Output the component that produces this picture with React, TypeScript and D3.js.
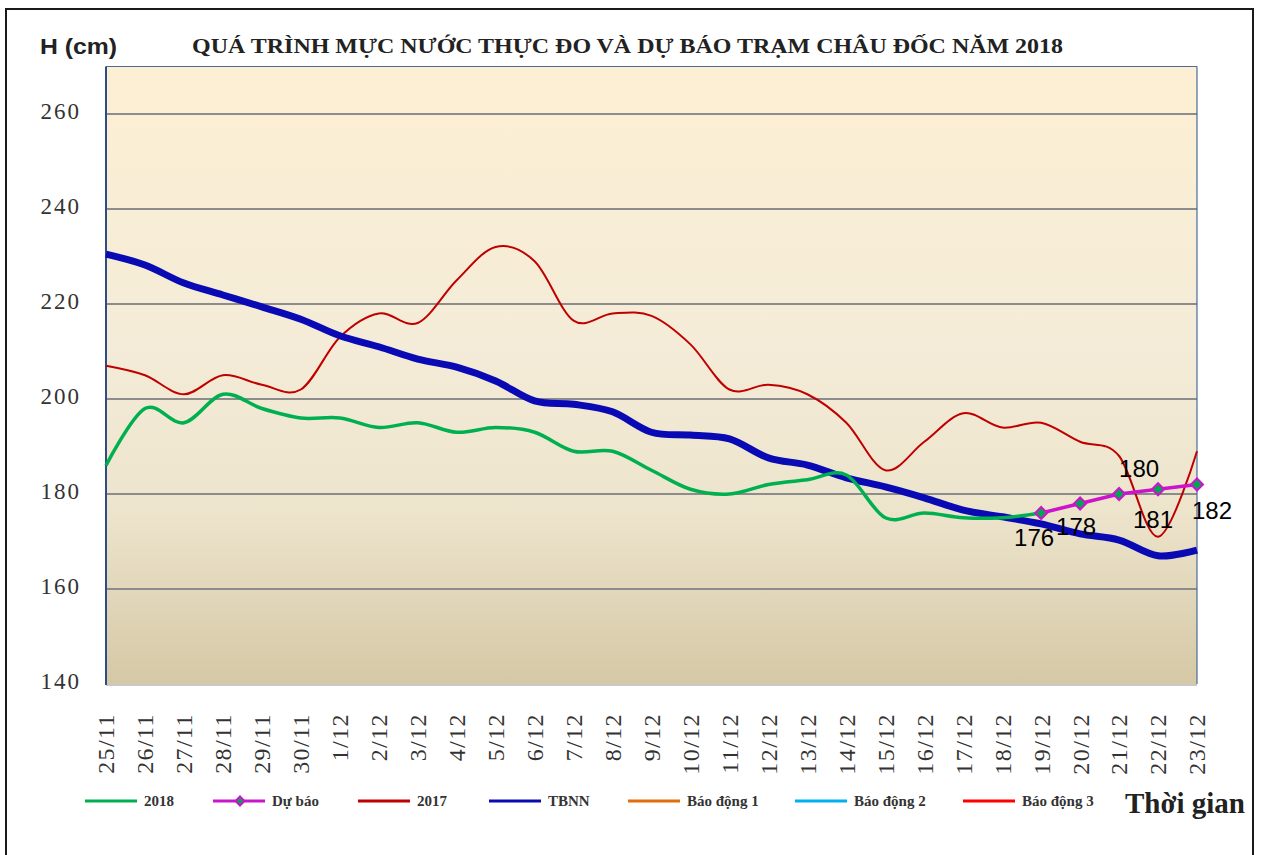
import React from 'react';
import * as d3 from 'd3';

// categories (ngày)
const dates = [
  '25/11', '26/11', '27/11', '28/11', '29/11', '30/11',
  '1/12', '2/12', '3/12', '4/12', '5/12', '6/12', '7/12', '8/12', '9/12', '10/12',
  '11/12', '12/12', '13/12', '14/12', '15/12', '16/12', '17/12', '18/12', '19/12',
  '20/12', '21/12', '22/12', '23/12',
];

// thực đo 2018 (25/11 -> 19/12)
const obs2018 = [
  186, 198, 195, 201, 198, 196, 196, 194, 195, 193, 194, 193, 189, 189, 185, 181,
  180, 182, 183, 184, 175, 176, 175, 175, 176,
];

// dự báo (19/12 -> 23/12)
const forecastDates = ['19/12', '20/12', '21/12', '22/12', '23/12'];
const forecast = [176, 178, 180, 181, 182];

// năm 2017
const year2017 = [
  207, 205, 201, 205, 203, 202, 213, 218, 216, 225, 232, 229, 216.5, 218, 217.5, 211.5,
  202, 203, 201, 195, 185, 191, 197, 194, 195, 191, 188, 171, 189,
];

// trung bình nhiều năm
const tbnn = [
  230.5, 228.2, 224.4, 221.9, 219.4, 216.8, 213.3, 211, 208.4, 206.7, 203.8, 199.6, 198.9,
  197.3, 193, 192.4, 191.6, 187.6, 186.1, 183.4, 181.5, 179.2, 176.6, 175.2, 173.7, 171.6,
  170.3, 167, 168.2,
];

const yTicks = [140, 160, 180, 200, 220, 240, 260];

const legendNames = ['2018', 'Dự báo', '2017', 'TBNN', 'Báo động 1', 'Báo động 2', 'Báo động 3'];
const legendColors = ['#00B050', '#CC14CC', '#C00000', '#0A0AB4', '#E46C0A', '#00B0F0', '#FF0000'];

// label offsets for forecast values (dx, dy from point)
const labelOffsets: [number, number][] = [[-7, 33], [-4, 31], [20, -17], [-5, 39], [15, 34]];

const W = 1264;
const H = 855;
const plot = { left: 106, right: 1197, bottom: 684 };

export default function App() {
  const x = d3.scalePoint<string>().domain(dates).range([plot.left, plot.right]);
  const y = d3.scaleLinear().domain([140, 270]).range([plot.bottom, plot.bottom - 130 * 4.75]);
  const top = y(270);

  const smooth = d3
    .line<number>()
    .x((_, i) => x(dates[i]) as number)
    .y(d => y(d))
    .curve(d3.curveCardinal.tension(0));

  const fcLine = d3
    .line<number>()
    .x((_, i) => x(forecastDates[i]) as number)
    .y(d => y(d));

  const diamond = d3.symbol().type(d3.symbolSquare).size(72)() as string;

  const legendX = [85, 213, 358, 489, 628, 795, 963];
  const legendY = 801;

  return (
    <svg
      width={W}
      height={H}
      style={{ position: 'absolute', left: 0, top: 0, background: '#fff' }}
    >
      <defs>
        <linearGradient id="plotBg" x1="0" y1="0" x2="0" y2="1">
          <stop offset="0%" stopColor="#FDEFD3" />
          <stop offset="45%" stopColor="#F4ECD8" />
          <stop offset="72%" stopColor="#EDE4CC" />
          <stop offset="100%" stopColor="#D5C8A6" />
        </linearGradient>
      </defs>

      {/* outer frame */}
      <rect x={6} y={9} width={1247} height={880} fill="none" stroke="#1a1a1a" strokeWidth={2} />

      {/* plot area */}
      <rect
        x={plot.left}
        y={top}
        width={plot.right - plot.left}
        height={plot.bottom - top}
        fill="url(#plotBg)"
      />
      {yTicks.slice(1).map(t => (
        <line
          key={t}
          x1={plot.left}
          x2={plot.right}
          y1={y(t)}
          y2={y(t)}
          stroke="#8C8C8C"
          strokeWidth={2}
        />
      ))}
      <line x1={plot.left} x2={plot.right} y1={top} y2={top} stroke="#4A6A99" strokeWidth={1.2} />
      <line x1={plot.right} x2={plot.right} y1={top} y2={plot.bottom} stroke="#4A6A99" strokeWidth={1.2} />
      <line
        x1={plot.left}
        x2={plot.right}
        y1={plot.bottom + 1}
        y2={plot.bottom + 1}
        stroke="#C8C8C8"
        strokeWidth={2}
      />
      <line x1={plot.left} x2={plot.left} y1={top} y2={plot.bottom + 1} stroke="#2B4E85" strokeWidth={2} />

      {/* y labels */}
      {yTicks.map(t => (
        <text
          key={t}
          x={81}
          y={y(t) + 5}
          textAnchor="end"
          fontFamily="'Liberation Serif', 'Times New Roman', serif"
          fontSize={23}
          letterSpacing={2}
          fill="#333"
        >
          {t}
        </text>
      ))}

      {/* x labels */}
      {dates.map(d => (
        <text
          key={d}
          transform={`translate(${x(d)},${713}) rotate(-90)`}
          dy="0.35em"
          textAnchor="end"
          fontFamily="'Liberation Serif', 'Times New Roman', serif"
          fontSize={24}
          letterSpacing={1.4}
          fill="#333"
        >
          {d}
        </text>
      ))}

      {/* series */}
      <path d={smooth(year2017) || ''} fill="none" stroke="#C00000" strokeWidth={2} />
      <path d={smooth(tbnn) || ''} fill="none" stroke="#0A0AB4" strokeWidth={7} strokeLinejoin="round" />
      <path d={smooth(obs2018) || ''} fill="none" stroke="#00B050" strokeWidth={3.5} />
      <path d={fcLine(forecast) || ''} fill="none" stroke="#CC14CC" strokeWidth={3.5} />
      {forecast.map((v, i) => (
        <path
          key={i}
          d={diamond}
          transform={`translate(${x(forecastDates[i])},${y(v)}) rotate(45)`}
          fill="#00A650"
          stroke="#CC14CC"
          strokeWidth={2}
        />
      ))}
      {forecast.map((v, i) => (
        <text
          key={i}
          x={(x(forecastDates[i]) as number) + labelOffsets[i][0]}
          y={y(v) + labelOffsets[i][1]}
          textAnchor="middle"
          fontFamily="'Liberation Sans', Arial, sans-serif"
          fontSize={24}
          fill="#000"
        >
          {v}
        </text>
      ))}

      {/* titles */}
      <text
        x={40}
        y={54}
        fontFamily="'Liberation Sans', Arial, sans-serif"
        fontWeight="bold"
        fontSize={22}
        textLength={77}
        lengthAdjust="spacingAndGlyphs"
        fill="#222"
      >
        H (cm)
      </text>
      <text
        x={192}
        y={53}
        fontFamily="'Liberation Serif', 'Times New Roman', serif"
        fontWeight="bold"
        fontSize={21}
        textLength={871}
        lengthAdjust="spacingAndGlyphs"
        fill="#222"
      >
        QUÁ TRÌNH MỰC NƯỚC THỰC ĐO VÀ DỰ BÁO TRẠM CHÂU ĐỐC NĂM 2018
      </text>

      {/* legend */}
      {legendNames.map((name, i) => (
        <g key={name}>
          <line
            x1={legendX[i]}
            x2={legendX[i] + 52}
            y1={legendY}
            y2={legendY}
            stroke={legendColors[i]}
            strokeWidth={3}
          />
          {i === 1 && (
            <path
              d={d3.symbol().type(d3.symbolSquare).size(40)() as string}
              transform={`translate(${legendX[i] + 27},${legendY}) rotate(45)`}
              fill="#00A650"
              stroke="#CC14CC"
              strokeWidth={2}
            />
          )}
          <text
            x={legendX[i] + 59}
            y={legendY + 5}
            fontFamily="'Liberation Serif', 'Times New Roman', serif"
            fontWeight="bold"
            fontSize={15}
            fill="#333"
          >
            {name}
          </text>
        </g>
      ))}
      <text
        x={1125}
        y={813}
        fontFamily="'Liberation Serif', 'Times New Roman', serif"
        fontWeight="bold"
        fontSize={29}
        textLength={120}
        lengthAdjust="spacingAndGlyphs"
        fill="#222"
      >
        Thời gian
      </text>
    </svg>
  );
}
